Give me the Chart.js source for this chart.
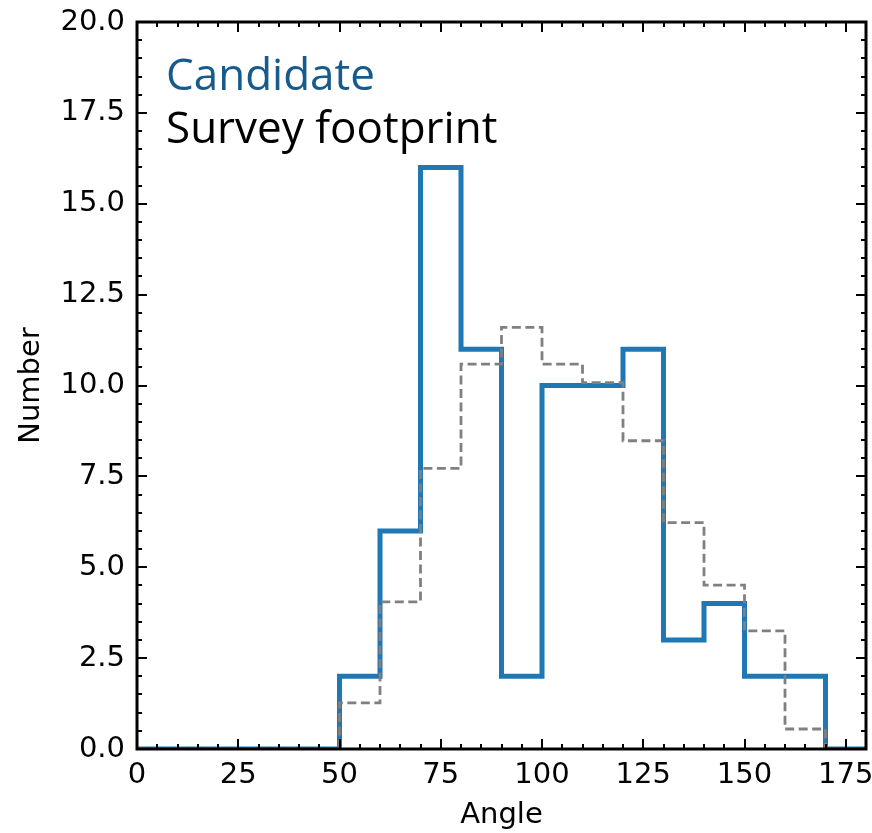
<!DOCTYPE html>
<html>
<head>
<meta charset="utf-8">
<script src="https://cdn.jsdelivr.net/npm/chart.js@4"></script>
<style>
html,body{margin:0;padding:0;background:#fff;}
canvas{display:block;}
</style>
</head>
<body>
<canvas id="c" width="872" height="833"></canvas>
<script>
// ---- data ----
const binEdges = [0,10,20,30,40,50,60,70,80,90,100,110,120,130,140,150,160,170,180];
const candidateCounts = [0,0,0,0,0,2,6,16,11,2,10,10,11,3,4,2,2,0];
const footprintCounts = [0,0,0,0,0,1.27,4.05,7.72,10.59,11.6,10.59,10.08,8.48,6.23,4.51,3.25,0.55,0];
const xTickValues = [0,25,50,75,100,125,150,175];
const yTickValues = [0,2.5,5,7.5,10,12.5,15,17.5,20];
const legendLabels = ['Candidate','Survey footprint'];

function stepPoints(counts){
  const pts = counts.map((v,i)=>({x:binEdges[i], y:v}));
  pts.push({x:binEdges[binEdges.length-1], y:counts[counts.length-1]});
  return pts;
}

const tickFont = {family:'DejaVu Sans', size:29};

const framePlugin = {
  id:'frame',
  afterDatasetsDraw(chart){
    const {ctx, chartArea:a, scales:{x,y}} = chart;
    ctx.save();
    ctx.strokeStyle = '#000';
    ctx.lineWidth = 2;
    ctx.lineCap = 'butt';
    for (let k = 0; k <= 36; k++) {
      const v = k*5;
      const px = Math.round(x.getPixelForValue(v));
      const major = xTickValues.includes(v);
      const L = major ? 10 : 5;
      ctx.beginPath();
      ctx.moveTo(px, a.bottom); ctx.lineTo(px, a.bottom - L);
      ctx.moveTo(px, a.top); ctx.lineTo(px, a.top + L);
      ctx.stroke();
    }
    for (let k = 0; k <= 40; k++) {
      const v = k*0.5;
      const py = Math.round(y.getPixelForValue(v));
      const major = yTickValues.includes(v);
      const L = major ? 10 : 5;
      ctx.beginPath();
      ctx.moveTo(a.left, py); ctx.lineTo(a.left + L, py);
      ctx.moveTo(a.right, py); ctx.lineTo(a.right - L, py);
      ctx.stroke();
    }
    ctx.lineWidth = 3;
    ctx.strokeRect(a.left, a.top, a.right - a.left, a.bottom - a.top);
    // legend text
    ctx.font = '44px "Open Sans"';
    ctx.textBaseline = 'alphabetic';
    ctx.textAlign = 'left';
    ctx.fillStyle = '#175a8c';
    ctx.fillText(legendLabels[0], a.left + 29, a.top + 68);
    ctx.fillStyle = '#000';
    ctx.fillText(legendLabels[1], a.left + 29, a.top + 121);
    ctx.restore();
  }
};

new Chart(document.getElementById('c'), {
  type:'line',
  data:{
    datasets:[
      {
        label:legendLabels[1],
        data:stepPoints(footprintCounts),
        stepped:'before',
        borderColor:'#808080',
        borderWidth:2.8,
        borderDash:[9,4.5],
        pointRadius:0,
        fill:false,
        order:0
      },
      {
        label:legendLabels[0],
        data:stepPoints(candidateCounts),
        stepped:'before',
        borderColor:'#1f77b4',
        borderWidth:5,
        pointRadius:0,
        fill:false,
        order:1
      }
    ]
  },
  options:{
    responsive:false,
    animation:false,
    devicePixelRatio:1,
    layout:{padding:{left:0,right:6,top:22,bottom:0}},
    plugins:{legend:{display:false}, tooltip:{enabled:false}},
    scales:{
      x:{
        type:'linear', min:0, max:180,
        afterBuildTicks(s){ s.ticks = xTickValues.map(v=>({value:v})); },
        ticks:{font:tickFont, color:'#000', padding:9, maxRotation:0, autoSkip:false, includeBounds:false,
               callback:v=>String(v)},
        grid:{display:false, drawTicks:false},
        border:{display:false},
        title:{display:true, text:'Angle', color:'#000', font:tickFont, padding:{top:2,bottom:0}},
        afterFit(s){ s.height = 84; s.paddingLeft = 0; s.paddingRight = 0; }
      },
      y:{
        type:'linear', min:0, max:20,
        afterBuildTicks(s){ s.ticks = yTickValues.map(v=>({value:v})); },
        ticks:{font:tickFont, color:'#000', padding:12, autoSkip:false, includeBounds:false,
               callback:v=>Number(v).toFixed(1)},
        grid:{display:false, drawTicks:false},
        border:{display:false},
        title:{display:true, text:'Number', color:'#000', font:tickFont, padding:{top:14,bottom:0}},
        afterFit(s){ s.width = 137; s.paddingTop = 0; s.paddingBottom = 0; }
      }
    }
  },
  plugins:[framePlugin]
});
</script>
</body>
</html>
